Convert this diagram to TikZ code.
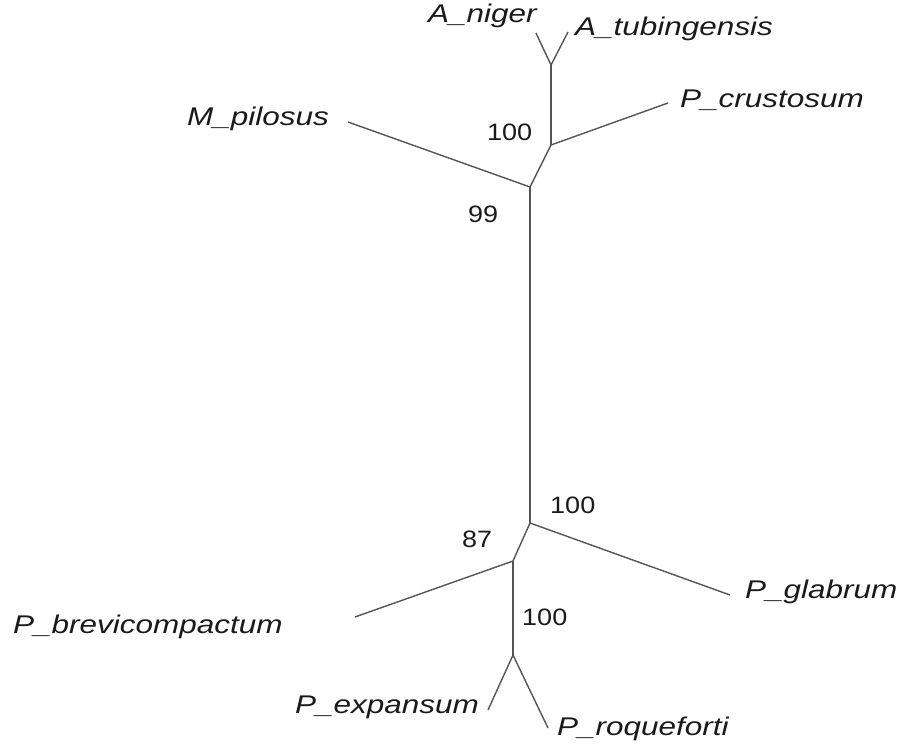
\documentclass[tikz,border=0pt]{standalone}
\usepackage{fontspec}
\newfontfamily\labfont[FakeStretch=1.23]{Liberation Sans}
\newfontfamily\numfont[FakeStretch=1.14]{Liberation Sans}
\definecolor{branch}{HTML}{555555}
\definecolor{txt}{HTML}{1A1A1A}
\begin{document}
\begin{tikzpicture}[x=1pt,y=-1pt,
  branchline/.style={draw=branch,line width=1.4pt},
  taxon/.style={anchor=base west,inner sep=0pt,text=txt,font=\labfont\itshape\fontsize{25.6}{30}\selectfont},
  boot/.style={anchor=base west,inner sep=0pt,text=txt,font=\numfont\fontsize{23.7}{28}\selectfont}]
\useasboundingbox (0,0) rectangle (897,744);
% internal nodes
\coordinate (T1) at (551,65);
\coordinate (T2) at (551,145);
\coordinate (T3) at (530,187);
\coordinate (B1) at (530,523);
\coordinate (B2) at (513,561);
\coordinate (B3) at (513,655);
% tips
\coordinate (An) at (536,33);
\coordinate (At) at (568,32);
\coordinate (Pc) at (668,103);
\coordinate (Mp) at (348,122);
\coordinate (Pg) at (730,595);
\coordinate (Pb) at (355,617);
\coordinate (Pe) at (488,710);
\coordinate (Pr) at (548,728);
% branches
\draw[branchline] (T1) -- (An);
\draw[branchline] (T1) -- (At);
\draw[branchline] (T1) -- (T2);
\draw[branchline] (T2) -- (Pc);
\draw[branchline] (T2) -- (T3);
\draw[branchline] (T3) -- (Mp);
\draw[branchline] (T3) -- (B1);
\draw[branchline] (B1) -- (Pg);
\draw[branchline] (B1) -- (B2);
\draw[branchline] (B2) -- (Pb);
\draw[branchline] (B2) -- (B3);
\draw[branchline] (B3) -- (Pe);
\draw[branchline] (B3) -- (Pr);
% taxa
\node[taxon] (lAn) at (428,23) {A\_niger};
\node[taxon] (lAt) at (575,35) {A\_tubingensis};
\node[taxon] (lPc) at (680,107) {P\_crustosum};
\node[taxon] (lMp) at (187,125) {M\_pilosus};
\node[taxon] (lPg) at (745,598) {P\_glabrum};
\node[taxon] (lPb) at (13,633) {P\_brevicompactum};
\node[taxon] (lPe) at (295,713) {P\_expansum};
\node[taxon] (lPr) at (557,735) {P\_roqueforti};
% bootstrap values
\node[boot] (n1) at (487,140) {100};
\node[boot] (n2) at (468,222) {99};
\node[boot] (n3) at (550,513) {100};
\node[boot] (n4) at (462,547) {87};
\node[boot] (n5) at (522,625) {100};
\end{tikzpicture}
\end{document}
